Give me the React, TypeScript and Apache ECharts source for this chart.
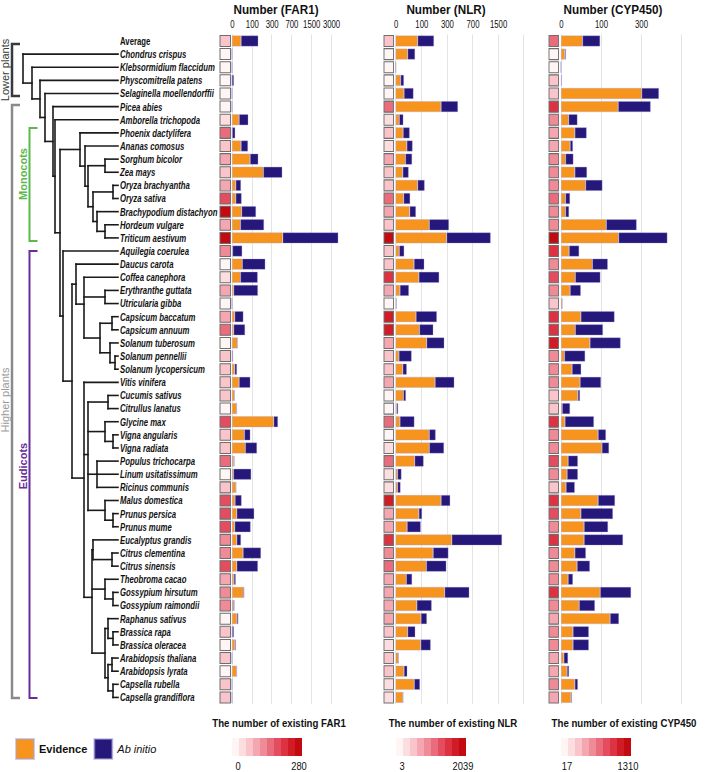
import React, { useEffect, useRef } from 'react';
import * as echarts from 'echarts';

const SPECIES = [
  'Average', 'Chondrus crispus', 'Klebsormidium flaccidum', 'Physcomitrella patens', 'Selaginella moellendorffii',
  'Picea abies', 'Amborella trichopoda', 'Phoenix dactylifera', 'Ananas comosus', 'Sorghum bicolor', 'Zea mays',
  'Oryza brachyantha', 'Oryza sativa', 'Brachypodium distachyon', 'Hordeum vulgare', 'Triticum aestivum',
  'Aquilegia coerulea', 'Daucus carota', 'Coffea canephora', 'Erythranthe guttata', 'Utricularia gibba',
  'Capsicum baccatum', 'Capsicum annuum', 'Solanum tuberosum', 'Solanum pennellii', 'Solanum lycopersicum',
  'Vitis vinifera', 'Cucumis sativus', 'Citrullus lanatus', 'Glycine max', 'Vigna angularis', 'Vigna radiata',
  'Populus trichocarpa', 'Linum usitatissimum', 'Ricinus communis', 'Malus domestica', 'Prunus persica',
  'Prunus mume', 'Eucalyptus grandis', 'Citrus clementina', 'Citrus sinensis', 'Theobroma cacao',
  'Gossypium hirsutum', 'Gossypium raimondii', 'Raphanus sativus', 'Brassica rapa', 'Brassica oleracea',
  'Arabidopsis thaliana', 'Arabidopsis lyrata', 'Capsella rubella', 'Capsella grandiflora',
];

const FAR1_EVIDENCE = [37,0,0,0,0,0,28,1,37,88,199,14,14,40,34,490,2,43,34,6,0,10,6,21,1,10,28,9,18,330,54,59,6,5,15,11,18,10,18,47,18,7,49,5,19,1,11,0,18,0,0];
const FAR1_ABINITIO = [114,0,0,7,0,0,49,11,38,63,283,23,26,92,173,3540,41,178,112,142,0,39,52,0,3,9,62,0,0,70,36,81,3,91,0,29,100,82,19,129,130,7,5,4,6,6,4,0,0,0,0];
const NLR_EVIDENCE = [81,38,0,14,25,241,10,22,35,30,21,81,24,46,148,297,10,64,87,12,2,73,90,131,9,21,190,23,3,12,148,148,67,5,5,241,87,36,356,175,129,33,276,77,98,38,97,8,25,65,22];
const NLR_ABINITIO = [101,31,0,11,37,199,13,24,23,26,21,38,24,27,175,912,16,53,138,31,0,132,87,142,45,14,199,9,4,54,47,122,46,12,9,97,17,61,1324,142,165,23,358,88,35,32,61,0,12,28,0];
const CYP450_EVIDENCE = [45,7,0,1,305,169,14,27,17,8,27,53,8,8,119,171,15,72,28,17,2,41,28,65,6,21,39,34,2,7,90,103,13,11,9,90,41,49,49,27,32,13,97,37,134,23,23,5,11,27,19];
const CYP450_ABINITIO = [52,2,0,0,141,204,19,29,6,16,30,52,9,7,152,361,22,53,70,24,1,112,79,116,46,21,61,5,15,70,28,27,21,23,18,65,105,77,144,27,33,10,140,43,39,39,39,8,4,7,2];

const FAR1_EXISTING = [60,0,0,3,2,1,30,150,65,95,70,100,180,270,110,275,120,25,30,95,20,100,150,12,70,75,70,65,15,185,65,70,150,25,65,190,195,185,125,125,180,100,120,115,25,70,25,70,25,65,65];
const NLR_EXISTING = [450,150,5,200,30,1050,400,420,400,650,420,500,1050,800,600,2000,450,430,1450,750,10,1700,1750,800,450,500,800,150,150,1200,200,250,1150,400,400,1750,800,800,1500,850,1200,650,800,800,650,450,250,450,600,250,250];
const CYP450_EXISTING = [700,20,90,300,280,1000,550,500,450,650,650,550,750,650,550,1250,950,650,850,650,280,950,950,1100,650,650,550,300,300,950,550,550,800,550,300,950,800,650,950,550,550,550,950,550,450,650,650,450,450,650,500];

const FAR1_TICKS = ['0', '100', '300', '700', '1500', '3000'];
const NLR_TICKS = ['0', '100', '300', '700', '1500'];
const CYP450_TICKS = ['0', '100', '300'];

const FAR1_RANGE = [0, 280];
const NLR_RANGE = [3, 2039];
const CYP450_RANGE = [17, 1310];

// cladogram: d = node depth, c = children (leaves are species names)
const TREE = { d: 23, c: ['Chondrus crispus', { d: 32, c: ['Klebsormidium flaccidum', { d: 40, c: ['Physcomitrella patens', { d: 45, c: ['Selaginella moellendorffii', { d: 53, c: ['Picea abies', { d: 55, c: ['Amborella trichopoda', { d: 60, c: [
  { d: 80, c: ['Phoenix dactylifera', { d: 85, c: ['Ananas comosus', { d: 88, c: [
    { d: 105, c: ['Sorghum bicolor', 'Zea mays'] },
    { d: 93, c: [{ d: 113, c: ['Oryza brachyantha', 'Oryza sativa'] }, { d: 97, c: ['Brachypodium distachyon', { d: 105, c: ['Hordeum vulgare', 'Triticum aestivum'] }] }] },
  ] }] }] },
  { d: 63, c: ['Aquilegia coerulea', { d: 72, c: [
    { d: 76, c: ['Daucus carota', { d: 84, c: ['Coffea canephora', { d: 105, c: ['Erythranthe guttata', 'Utricularia gibba'] }, { d: 100, c: [{ d: 112, c: ['Capsicum baccatum', 'Capsicum annuum'] }, { d: 110, c: ['Solanum tuberosum', { d: 115, c: ['Solanum pennellii', 'Solanum lycopersicum'] }] }] }] }] },
    { d: 84, c: ['Vitis vinifera',
      { d: 88, c: [{ d: 108, c: ['Cucumis sativus', 'Citrullus lanatus'] }, { d: 105, c: ['Glycine max', { d: 113, c: ['Vigna angularis', 'Vigna radiata'] }] }, { d: 97, c: ['Populus trichocarpa', 'Linum usitatissimum', 'Ricinus communis'] }, { d: 105, c: ['Malus domestica', { d: 113, c: ['Prunus persica', 'Prunus mume'] }] }] },
      { d: 92, c: [{ d: 93, c: ['Eucalyptus grandis', { d: 112, c: ['Citrus clementina', 'Citrus sinensis'] }] }, { d: 105, c: ['Theobroma cacao', { d: 113, c: ['Gossypium hirsutum', 'Gossypium raimondii'] }] }, { d: 105, c: [{ d: 108, c: ['Raphanus sativus', { d: 113, c: ['Brassica rapa', 'Brassica oleracea'] }] }, { d: 108, c: [{ d: 112, c: ['Arabidopsis thaliana', 'Arabidopsis lyrata'] }, { d: 113, c: ['Capsella rubella', 'Capsella grandiflora'] }] }] }] },
    ] },
  ] }] },
] }] }] }] }] }] }] };

const TIP = 118;
const ORANGE = '#f7941d';
const NAVY = '#25187a';
const HEAT_COLORS = ['#fff5f5', '#fcdde0', '#f9c4ca', '#f4a7b1', '#ef8a97', '#e96c7c', '#e34d5f', '#dc3242', '#d01c26', '#c20a10'];
const FONT = 'Liberation Sans, Arial, sans-serif';

const tf = (v: number) => Math.log2(v / 100 + 1);

function buildTree() {
  const segs: number[][] = [];
  const walk = (n: any): [number, number] => {
    if (typeof n === 'string') return [TIP, SPECIES.indexOf(n)];
    const kids = n.c.map(walk);
    const ys = kids.map((k: number[]) => k[1]);
    kids.forEach((k: number[]) => segs.push([n.d, k[1], k[0], k[1]]));
    segs.push([n.d, Math.min(...ys), n.d, Math.max(...ys)]);
    return [n.d, ys.reduce((a: number, b: number) => a + b, 0) / ys.length];
  };
  walk(TREE);
  return segs;
}

const TOP = 34.4;
const HEIGHT = 669.6;

export default function App() {
  const ref = useRef<HTMLDivElement>(null);
  useEffect(() => {
    if (!ref.current) return;
    const chart = echarts.init(ref.current, null, { renderer: 'svg' });
    const catAxis = (gridIndex: number) => ({ type: 'category', gridIndex, data: SPECIES, inverse: true, show: false });
    const heatX = (gridIndex: number) => ({ type: 'value', gridIndex, min: -1, max: 1, show: false });
    const barX = (gridIndex: number, max: number) => ({
      type: 'value', gridIndex, min: 0, max, interval: 1, position: 'top',
      axisLine: { show: false }, axisTick: { show: false }, axisLabel: { show: false },
      splitLine: { show: true, showMaxLine: false, lineStyle: { color: '#e4e4e4', width: 1 } },
    });
    const panels = [
      { E: FAR1_EVIDENCE, A: FAR1_ABINITIO, EX: FAR1_EXISTING, range: FAR1_RANGE, ticks: FAR1_TICKS, heatLeft: 220, heatW: 10.5, barLeft: 232, max: 5.6, unit: 19.8, title: 'Number (FAR1)', titleX: 276, legTitle: 'The number of existing FAR1', legX: 279 },
      { E: NLR_EVIDENCE, A: NLR_ABINITIO, EX: NLR_EXISTING, range: NLR_RANGE, ticks: NLR_TICKS, heatLeft: 384, heatW: 9.5, barLeft: 395.7, max: 5.1, unit: 25.6, title: 'Number (NLR)', titleX: 446, legTitle: 'The number of existing NLR', legX: 453 },
      { E: CYP450_EVIDENCE, A: CYP450_ABINITIO, EX: CYP450_EXISTING, range: CYP450_RANGE, ticks: CYP450_TICKS, heatLeft: 549, heatW: 9.5, barLeft: 561, max: 3.5, unit: 40, title: 'Number (CYP450)', titleX: 613, legTitle: 'The number of existing CYP450', legX: 624 },
    ];

    const grids: any[] = [{ left: 0, top: TOP, width: TIP, height: HEIGHT }];
    const xAxes: any[] = [{ type: 'value', gridIndex: 0, min: 0, max: TIP, show: false }];
    const yAxes: any[] = [
      { type: 'value', gridIndex: 0, min: -0.5, max: SPECIES.length - 0.5, inverse: true, show: false },
    ];
    const series: any[] = [{
      type: 'custom', xAxisIndex: 0, yAxisIndex: 0, data: buildTree(), silent: true,
      renderItem: (params: any, api: any) => {
        const p1 = api.coord([api.value(0), api.value(1)]);
        const p2 = api.coord([api.value(2), api.value(3)]);
        return { type: 'line', shape: { x1: p1[0], y1: p1[1], x2: p2[0], y2: p2[1] }, style: { stroke: '#1a1a1a', lineWidth: 1.6, lineCap: 'square' } };
      },
    }, {
      // species labels at the tree tips
      type: 'custom', xAxisIndex: 0, yAxisIndex: 0, silent: true, clip: false,
      data: SPECIES.map((s, i) => [TIP, i]),
      renderItem: (params: any, api: any) => {
        const p = api.coord([api.value(0), api.value(1)]);
        const name = SPECIES[params.dataIndex];
        const italic = params.dataIndex === 0 ? '' : 'italic ';
        return { type: 'text', x: p[0] + 2, y: p[1] + 0.5, scaleX: 0.74,
          style: { text: name, font: italic + 'bold 10.5px ' + FONT, fill: '#111', textAlign: 'left', textVerticalAlign: 'middle' } };
      },
    }];
    const visualMaps: any[] = [];
    const graphics: any[] = [];

    panels.forEach((p, k) => {
      const gh = grids.length;
      grids.push({ left: p.heatLeft - 2, top: TOP, width: p.heatW + 4, height: HEIGHT });
      xAxes.push(heatX(gh));
      yAxes.push(catAxis(gh));
      const gb = grids.length;
      grids.push({ left: p.barLeft, top: TOP, width: p.max * p.unit, height: HEIGHT });
      xAxes.push(barX(gb, p.max));
      yAxes.push(catAxis(gb));
      const heatSeriesIndex = series.length;
      series.push({
        type: 'scatter', xAxisIndex: gh, yAxisIndex: gh, symbol: 'rect', symbolSize: [p.heatW, 11],
        data: p.EX.map((v, i) => [0, i, v]), itemStyle: { borderColor: '#6e6e6e', borderWidth: 1, opacity: 1 }, silent: true,
      });
      series.push({
        type: 'bar', name: 'Evidence', stack: 's' + k, xAxisIndex: gb, yAxisIndex: gb, barWidth: 11,
        data: p.E.map((e) => tf(e)), itemStyle: { color: ORANGE, borderColor: 'rgba(170,160,215,0.55)', borderWidth: 0.6 },
      });
      series.push({
        type: 'bar', name: 'Ab initio', stack: 's' + k, xAxisIndex: gb, yAxisIndex: gb, barWidth: 11,
        data: p.E.map((e, i) => tf(e + p.A[i]) - tf(e)), itemStyle: { color: NAVY, borderColor: 'rgba(170,160,215,0.55)', borderWidth: 0.6 },
      });
      // top tick labels, placed through the bar axis
      series.push({
        type: 'custom', xAxisIndex: gb, yAxisIndex: gb, silent: true, clip: false,
        data: p.ticks.map((t, j) => [j, 0]),
        renderItem: (params: any, api: any) => {
          const c = api.coord([api.value(0), 0]);
          const band = api.size([0, 1])[1];
          return { type: 'text', x: c[0] + 0.5, y: c[1] - band / 2 - 9.5, scaleX: 0.74,
            style: { text: p.ticks[params.dataIndex], font: '10.5px ' + FONT, fill: '#111', textAlign: 'center', textVerticalAlign: 'middle' } };
        },
      });
      const legLeft = Math.round(p.barLeft);
      visualMaps.push({
        type: 'piecewise', seriesIndex: heatSeriesIndex, dimension: 2, min: p.range[0], max: p.range[1], splitNumber: 10,
        orient: 'horizontal', itemWidth: 7, itemHeight: 18, itemGap: 0, showLabel: false, itemSymbol: 'rect',
        left: legLeft, top: 738, padding: 0, selectedMode: false, hoverLink: false,
        inRange: { color: HEAT_COLORS },
      });
      graphics.push({ type: 'text', x: p.titleX, y: 10, scaleX: 0.9, style: { text: p.title, font: 'bold 13px ' + FONT, fill: '#111', textAlign: 'center', textVerticalAlign: 'middle' } });
      graphics.push({ type: 'text', x: p.legX, y: 723, scaleX: 0.84, style: { text: p.legTitle, font: 'bold 11.5px ' + FONT, fill: '#111', textAlign: 'center', textVerticalAlign: 'middle' } });
      graphics.push({ type: 'text', x: legLeft + 6, y: 766, scaleX: 0.85, style: { text: String(p.range[0]), font: '11px ' + FONT, fill: '#111', textAlign: 'center', textVerticalAlign: 'middle' } });
      graphics.push({ type: 'text', x: legLeft + 67, y: 766, scaleX: 0.85, style: { text: String(p.range[1]), font: '11px ' + FONT, fill: '#111', textAlign: 'center', textVerticalAlign: 'middle' } });
    });

    // clade brackets
    const bracket = (x: number, y1: number, y2: number, color: string, w: number) => ({
      type: 'polyline', shape: { points: [[x + 8, y1], [x, y1], [x, y2], [x + 8, y2]] }, style: { stroke: color, lineWidth: w, fill: null },
    });
    graphics.push(bracket(12, 44, 96, '#3a3a3a', 2.5));
    graphics.push(bracket(12, 105, 698, '#8a8a8a', 2.5));
    graphics.push(bracket(29.5, 128, 241, '#5cb848', 2));
    graphics.push(bracket(29.5, 251, 698, '#6a2c96', 2));
    const vtext = (t: string, x: number, y: number, color: string, weight: string) => ({
      type: 'text', x, y, rotation: Math.PI / 2,
      style: { text: t, font: weight + ' 11px ' + FONT, fill: color, textAlign: 'center', textVerticalAlign: 'middle' },
    });
    graphics.push(vtext('Lower plants', 5, 70, '#3a3a3a', 'normal'));
    graphics.push(vtext('Higher plants', 5, 400, '#9a9a9a', 'normal'));
    graphics.push(vtext('Monocots', 23, 174, '#5cb848', 'bold'));
    graphics.push(vtext('Eudicots', 23, 466, '#6a2c96', 'bold'));

    chart.setOption({
      animation: false,
      grid: grids,
      xAxis: xAxes,
      yAxis: yAxes,
      series,
      visualMap: visualMaps,
      graphic: graphics,
      legend: {
        left: 10, top: 733, itemWidth: 18, itemHeight: 20, itemGap: 6, icon: 'rect', selectedMode: false,
        data: [
          { name: 'Evidence', textStyle: { fontWeight: 'bold', fontSize: 11, color: '#111', fontFamily: FONT } },
          { name: 'Ab initio', textStyle: { fontStyle: 'italic', fontSize: 11, color: '#111', fontFamily: FONT } },
        ],
      },
    });
    return () => chart.dispose();
  }, []);
  return <div ref={ref} style={{ position: 'fixed', left: 0, top: 0, width: 709, height: 772, background: '#fff' }} />;
}
